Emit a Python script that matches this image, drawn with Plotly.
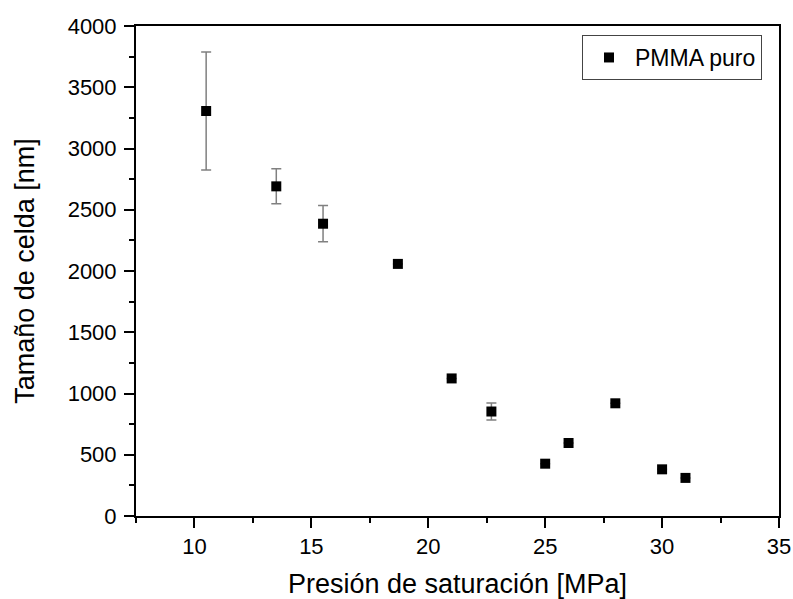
import plotly.graph_objects as go

pressure = [10.5, 13.5, 15.5, 18.7, 21.0, 22.7, 25.0, 26.0, 28.0, 30.0, 31.0]
cell_size = [3306, 2691, 2386, 2058, 1123, 853, 427, 596, 920, 381, 311]
cell_err = [481, 143, 148, None, None, 70, None, None, None, None, None]

FONT = "Liberation Sans, Arial, sans-serif"

fig = go.Figure()
fig.add_trace(go.Scatter(
    x=pressure, y=cell_size, mode="markers", name="PMMA puro",
    marker=dict(symbol="square", size=10, color="black"),
    error_y=dict(type="data", array=cell_err, visible=True,
                 color="#808080", thickness=1.5, width=5),
))

axis_common = dict(
    showline=True, linecolor="black", linewidth=2, mirror=True,
    ticks="outside", ticklen=10, tickwidth=2, tickcolor="black",
    showgrid=False, zeroline=False, automargin=False,
    tickfont=dict(family=FONT, size=22, color="black"),
)

fig.update_xaxes(
    range=[7.5, 35], dtick=5, tick0=0,
    minor=dict(ticks="outside", ticklen=5, tickwidth=2, tickcolor="black", dtick=2.5, tick0=0),
    title=dict(text="Presión de saturación [MPa]", font=dict(family=FONT, size=27, color="black"), standoff=22),
    **axis_common,
)
fig.update_yaxes(
    range=[0, 4000], dtick=500, tick0=0,
    minor=dict(ticks="outside", ticklen=5, tickwidth=2, tickcolor="black", dtick=250, tick0=0),
    title=dict(text="Tamaño de celda [nm]", font=dict(family=FONT, size=27, color="black"), standoff=25),
    ticklabelstandoff=3,
    **axis_common,
)

fig.update_layout(
    width=793, height=599,
    margin=dict(l=136, r=14, t=26, b=83),
    paper_bgcolor="white", plot_bgcolor="white",
    showlegend=True,
    legend=dict(
        x=0.9736, y=0.9816, xanchor="right", yanchor="top",
        bordercolor="#444444", borderwidth=1, bgcolor="white",
        itemwidth=42,
        font=dict(family=FONT, size=23, color="black"),
    ),
)

fig.write_html("out.html")
